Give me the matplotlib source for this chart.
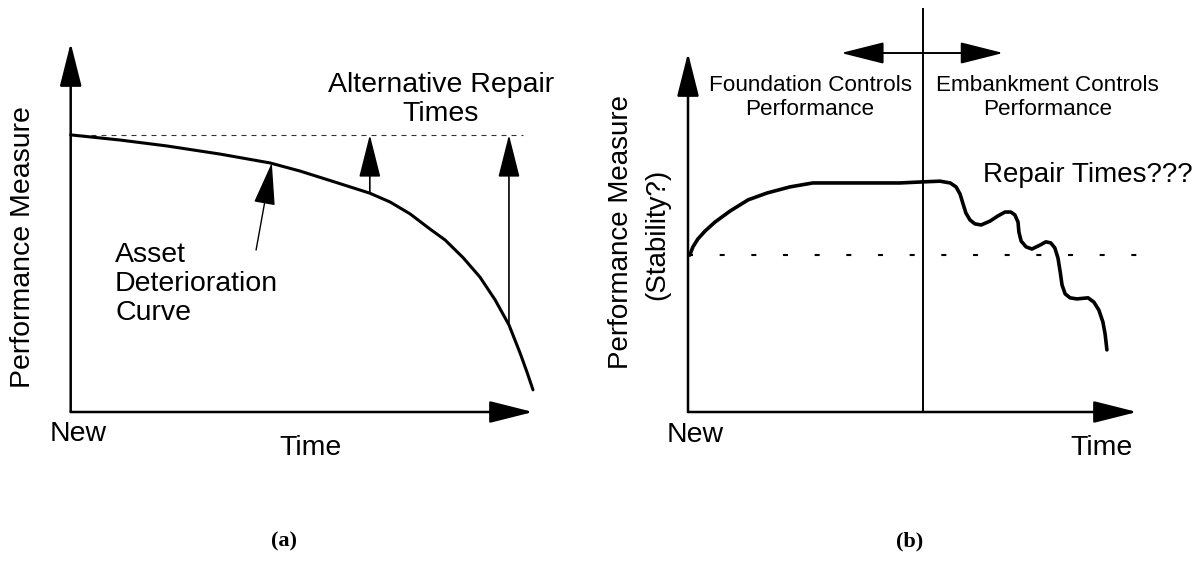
import matplotlib
matplotlib.use("Agg")
import matplotlib.pyplot as plt

plt.rcParams['font.family'] = ['Liberation Sans', 'DejaVu Sans']
plt.rcParams['lines.scale_dashes'] = False

# Data ####################################################################
# panel (a): time 0..10, performance 0..10
a_time = [0, 1.07, 2.08, 3.23, 4.31, 4.96, 5.72, 6.47, 6.91, 7.34, 7.77, 8.10,
          8.49, 8.85, 9.18, 9.48, 9.72, 9.87, 10.0]
a_perf = [7.51, 7.37, 7.21, 6.99, 6.75, 6.53, 6.23, 5.93, 5.69, 5.37, 4.96, 4.66,
          4.18, 3.66, 3.04, 2.36, 1.60, 1.08, 0.60]
a_target = 7.51
a_repair_times = [6.47, 9.48]
a_repair_from = [5.93, 2.36]
a_dash_end = 9.79

# panel (b)
b_time = [0.04, 0.11, 0.22, 0.38, 0.60, 0.94, 1.34, 1.76, 2.27, 2.78, 4.72, 5.23,
          5.61, 5.84, 5.97, 6.06, 6.12, 6.19, 6.28, 6.39, 6.53, 6.73, 6.90, 7.06,
          7.19, 7.28, 7.35, 7.37, 7.42, 7.53, 7.66, 7.84, 7.97, 8.08, 8.17, 8.24,
          8.29, 8.33, 8.40, 8.51, 8.66, 8.91, 9.04, 9.15, 9.24, 9.29, 9.33]
b_perf = [4.37, 4.60, 4.82, 5.04, 5.29, 5.60, 5.91, 6.10, 6.27, 6.38, 6.38, 6.41,
          6.43, 6.38, 6.27, 6.07, 5.82, 5.54, 5.35, 5.24, 5.21, 5.32, 5.46, 5.57,
          5.57, 5.49, 5.29, 5.01, 4.76, 4.60, 4.54, 4.65, 4.74, 4.71, 4.57, 4.29,
          3.90, 3.54, 3.29, 3.18, 3.15, 3.18, 3.06, 2.84, 2.51, 2.17, 1.73]
b_threshold = 4.37
b_split = 5.23
b_split_top = 11.23
b_arrow_y = 10.0
b_arrow_left = 3.41
b_arrow_right = 7.02

W, H = 1201, 583
fig = plt.figure(figsize=(W / 100, H / 100), dpi=100)


def px_axes(x0, y0, x1, y1):
    # x0,y0 = origin pixel, x1,y1 = arrow tips pixel (top-left image coords)
    return fig.add_axes([x0 / W, 1 - y0 / H, (x1 - x0) / W, (y0 - y1) / H])


head = dict(arrowstyle='-|>,head_length=27,head_width=6.8', mutation_scale=1,
            color='black', shrinkA=0, shrinkB=0)


def arrow(ax, xy0, xy1, lw):
    ax.annotate('', xy=xy1, xytext=xy0, xycoords='data',
                arrowprops=dict(head, lw=lw), annotation_clip=False)


fs = 20.5

# Panel (a) ###############################################################
axa = px_axes(70.7, 412, 533, 43)
axa.set_xlim(0, 10)
axa.set_ylim(0, 10)
axa.axis('off')
arrow(axa, (0, 0), (0, 10), 1.8)
arrow(axa, (0, 0), (10, 0), 1.8)
axa.plot([0, a_dash_end], [a_target, a_target], color='#333333', lw=0.8,
         linestyle=(0, (3.6, 3.6)), clip_on=False)
axa.plot(a_time, a_perf, color='black', lw=2.2, clip_on=False,
         solid_joinstyle='round', solid_capstyle='round')
for t, p in zip(a_repair_times, a_repair_from):
    arrow(axa, (t, p), (t, a_target), 1.2)
arrow(axa, (4.01, 4.39), (4.35, 6.75), 1.0)

axa.text(8.01, 8.46, 'Alternative Repair\nTimes', ha='center', va='center',
         fontsize=fs, linespacing=1.15)
axa.text(0.96, 3.47, 'Asset\nDeterioration\nCurve', ha='left', va='center',
         fontsize=fs, linespacing=1.15)
axa.text(0.16, -0.60, 'New', ha='center', va='center', fontsize=fs)
axa.text(5.18, -0.98, 'Time', ha='center', va='center', fontsize=fs)
axa.text(-1.03, 4.47, 'Performance Measure', ha='center', va='center',
         rotation=90, fontsize=fs)

# Panel (b) ###############################################################
axb = px_axes(688, 412, 1137, 53)
axb.set_xlim(0, 10)
axb.set_ylim(0, 10)
axb.axis('off')
arrow(axb, (0, 0), (0, 10), 1.8)
arrow(axb, (0, 0), (10, 0), 1.8)
axb.plot([b_split, b_split], [0, b_split_top], color='black', lw=1.4, clip_on=False)
arrow(axb, (b_split, b_arrow_y), (b_arrow_left, b_arrow_y), 1.4)
arrow(axb, (b_split, b_arrow_y), (b_arrow_right, b_arrow_y), 1.4)
axb.plot([0, 10], [b_threshold, b_threshold], color='black', lw=1.5,
         linestyle=(0, (3.6, 19.2)), clip_on=False)
axb.plot(b_time, b_perf, color='black', lw=2.6, clip_on=False,
         solid_joinstyle='round', solid_capstyle='round')

axb.text(2.72, 8.75, 'Foundation Controls\nPerformance', ha='center', va='center',
         fontsize=16.2, linespacing=1.2)
axb.text(8.0, 8.75, 'Embankment Controls\nPerformance', ha='center', va='center',
         fontsize=16.2, linespacing=1.2)
axb.text(8.91, 6.60, 'Repair Times???', ha='center', va='center', fontsize=20)
axb.text(0.16, -0.64, 'New', ha='center', va='center', fontsize=fs)
axb.text(9.20, -1.00, 'Time', ha='center', va='center', fontsize=fs)
axb.text(-1.49, 5.01, 'Performance Measure', ha='center', va='center',
         rotation=90, fontsize=20)
axb.text(-0.69, 4.96, '(Stability?)', ha='center', va='center',
         rotation=90, fontsize=20)

# panel captions
fig.text(284 / W, 1 - 541 / H, '(a)', ha='center', va='center', fontsize=16,
         fontweight='bold', family=['Liberation Serif', 'DejaVu Serif'])
fig.text(910 / W, 1 - 541 / H, '(b)', ha='center', va='center', fontsize=16,
         fontweight='bold', family=['Liberation Serif', 'DejaVu Serif'])

fig.savefig('out.png', dpi=100, facecolor='white')
